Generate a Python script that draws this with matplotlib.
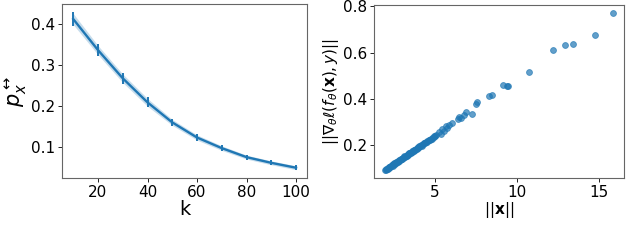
import numpy as np
import matplotlib.pyplot as plt

# left panel: probability vs k
k = [10, 20, 30, 40, 50, 60, 70, 80, 90, 100]
p_mean = [0.413, 0.337, 0.268, 0.209, 0.160, 0.123, 0.097, 0.075, 0.061, 0.049]
p_err = [0.017, 0.014, 0.013, 0.012, 0.009, 0.008, 0.007, 0.006, 0.006, 0.006]

# right panel: gradient norm vs input norm
x_norm = [1.94, 1.98, 2.02, 2.05, 2.08, 2.12, 2.15, 2.18, 2.22, 2.25,
          2.28, 2.31, 2.35, 2.38, 2.41, 2.45, 2.48, 2.52, 2.55, 2.58,
          2.62, 2.65, 2.69, 2.72, 2.76, 2.79, 2.83, 2.86, 2.90, 2.93,
          2.97, 3.01, 3.04, 3.08, 3.12, 3.15, 3.19, 3.23, 3.27, 3.31,
          3.35, 3.39, 3.43, 3.47, 3.51, 3.56, 3.60, 3.64, 3.69, 3.73,
          3.78, 3.83, 3.88, 3.93, 3.98, 4.03, 4.09, 4.15, 4.21, 4.27,
          4.33, 4.40, 4.47, 4.53, 4.60, 4.68, 4.75, 4.83, 4.90, 4.97,
          2.10, 2.40, 2.70, 3.00, 3.30, 3.60, 3.90, 4.20, 4.50, 4.80,
          2.20, 2.50, 2.80, 3.10, 3.40, 3.70, 4.00, 4.30, 4.60, 4.90,
          5.05, 5.24, 5.45, 5.55, 5.65, 5.86, 6.06, 5.35, 5.75,
          6.37, 6.47, 6.57, 6.78, 6.88, 7.28, 7.49, 7.59, 8.31, 8.45,
          9.14, 9.39, 9.43, 10.76, 12.20, 12.96, 13.43, 14.80, 15.86]
grad_norm = [0.092, 0.094, 0.096, 0.098, 0.099, 0.101, 0.103, 0.104, 0.106, 0.108,
             0.109, 0.111, 0.113, 0.114, 0.116, 0.118, 0.119, 0.121, 0.122, 0.124,
             0.126, 0.127, 0.129, 0.131, 0.132, 0.134, 0.136, 0.137, 0.139, 0.141,
             0.142, 0.144, 0.146, 0.148, 0.150, 0.151, 0.153, 0.155, 0.157, 0.159,
             0.161, 0.163, 0.165, 0.166, 0.168, 0.171, 0.173, 0.175, 0.177, 0.179,
             0.181, 0.184, 0.186, 0.189, 0.191, 0.193, 0.196, 0.199, 0.202, 0.205,
             0.208, 0.211, 0.214, 0.217, 0.221, 0.224, 0.228, 0.232, 0.235, 0.238,
             0.097, 0.112, 0.126, 0.140, 0.155, 0.170, 0.184, 0.198, 0.212, 0.227,
             0.108, 0.122, 0.137, 0.152, 0.166, 0.180, 0.195, 0.209, 0.224, 0.238,
             0.244, 0.256, 0.268, 0.262, 0.282, 0.289, 0.297, 0.250, 0.275,
             0.314, 0.323, 0.318, 0.332, 0.342, 0.336, 0.376, 0.386, 0.414, 0.419,
             0.462, 0.457, 0.455, 0.515, 0.613, 0.634, 0.637, 0.675, 0.771]

plt.rcParams['font.size'] = 11
fig = plt.figure(figsize=(6.4, 2.46), dpi=100)

ax1 = fig.add_axes([0.097, 0.276, 0.383, 0.707])
lo = np.array(p_mean) - np.array(p_err) * 0.8
hi = np.array(p_mean) + np.array(p_err) * 0.8
ax1.fill_between(k, lo, hi, color='C0', alpha=0.25, lw=0)
ax1.errorbar(k, p_mean, yerr=p_err, color='C0', lw=1.7, elinewidth=1.4)
ax1.set_xticks([20, 40, 60, 80, 100])
ax1.set_yticks([0.1, 0.2, 0.3, 0.4])
ax1.set_xlabel('k', fontsize=14, labelpad=0)
ax1.set_ylabel(r'$p_x^{\leftrightarrow}$', fontsize=15, labelpad=1)

ax2 = fig.add_axes([0.584, 0.276, 0.391, 0.703])
ax2.scatter(x_norm, grad_norm, s=18, color='C0', alpha=0.7, lw=0.6, edgecolors='C0')
ax2.set_xticks([5, 10, 15])
ax2.set_yticks([0.2, 0.4, 0.6, 0.8])
ax2.set_xlabel(r'$||\mathbf{x}||$', fontsize=11, labelpad=0)
ax2.set_ylabel(r'$||\nabla_\theta \ell(f_\theta(\mathbf{x}), y)||$', fontsize=11, labelpad=1)

for ax in (ax1, ax2):
    ax.tick_params(labelsize=11, length=3, width=0.6, pad=2)
    for s in ax.spines.values():
        s.set_color('0.4')
        s.set_linewidth(0.8)

fig.savefig('out.png', dpi=100)
